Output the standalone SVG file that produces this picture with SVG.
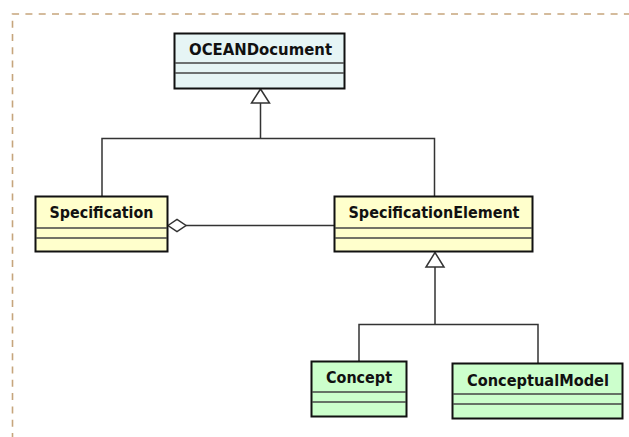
<svg xmlns="http://www.w3.org/2000/svg" width="629" height="437" viewBox="0 0 629 437">
  <defs>
    <style>
      .frame { fill: none; stroke: #c6a57c; stroke-width: 1.6; stroke-dasharray: 7 6.3; }
      .box { stroke: #111; stroke-width: 2; }
      .sep { stroke: #444; stroke-width: 1.5; }
      .doc { fill: #e6f5f5; }
      .spec { fill: #ffffcc; }
      .concept { fill: #ccffcc; }
      .name { font-family: "DejaVu Sans", "Liberation Sans", sans-serif; font-weight: bold; font-size: 15px; fill: #111; text-anchor: middle; }
      .wire { fill: none; stroke: #333; stroke-width: 1.5; }
      .head { fill: #fff; stroke: #333; stroke-width: 1.5; stroke-linejoin: miter; }
    </style>
  </defs>

  <!-- package frame, running off the right and bottom edges -->
  <path class="frame" d="M12.5,440 V14 H640"/>

  <!-- connectors -->
  <g id="connectors">
    <!-- generalisation: Specification / SpecificationElement -> OCEANDocument -->
    <path class="wire" d="M260.5,103 V138.5 M102,196 V138.5 H434.5 V196"/>
    <polygon class="head" points="260.5,89 251.5,103 269.5,103"/>
    <!-- aggregation: Specification <>- SpecificationElement -->
    <path class="wire" d="M186,225.5 H334"/>
    <polygon class="head" points="168,225.5 177,219.5 186,225.5 177,231.5"/>
    <!-- generalisation: Concept / ConceptualModel -> SpecificationElement -->
    <path class="wire" d="M435,267 V324.5 M359,361 V324.5 H538 V363"/>
    <polygon class="head" points="435,252.5 426,267 444,267"/>
  </g>

  <g id="OCEANDocument">
    <rect class="box doc" x="174.5" y="33.5" width="170" height="55"/>
    <line class="sep" x1="175" y1="63" x2="344" y2="63"/>
    <line class="sep" x1="175" y1="73" x2="344" y2="73"/>
    <text class="name" x="260.5" y="54.5" textLength="143" lengthAdjust="spacingAndGlyphs">OCEANDocument</text>
  </g>

  <g id="Specification">
    <rect class="box spec" x="35.5" y="196.5" width="132" height="55"/>
    <line class="sep" x1="36" y1="228" x2="167" y2="228"/>
    <line class="sep" x1="36" y1="238" x2="167" y2="238"/>
    <text class="name" x="101.5" y="218" textLength="104" lengthAdjust="spacingAndGlyphs">Specification</text>
  </g>

  <g id="SpecificationElement">
    <rect class="box spec" x="334.5" y="196.5" width="198" height="55"/>
    <line class="sep" x1="335" y1="228" x2="532" y2="228"/>
    <line class="sep" x1="335" y1="238" x2="532" y2="238"/>
    <text class="name" x="434" y="218" textLength="171" lengthAdjust="spacingAndGlyphs">SpecificationElement</text>
  </g>

  <g id="Concept">
    <rect class="box concept" x="311.5" y="361.5" width="95" height="55"/>
    <line class="sep" x1="312" y1="392" x2="406" y2="392"/>
    <line class="sep" x1="312" y1="402" x2="406" y2="402"/>
    <text class="name" x="359" y="383" textLength="66" lengthAdjust="spacingAndGlyphs">Concept</text>
  </g>

  <g id="ConceptualModel">
    <rect class="box concept" x="452.5" y="363.5" width="170" height="55"/>
    <line class="sep" x1="453" y1="394" x2="622" y2="394"/>
    <line class="sep" x1="453" y1="404" x2="622" y2="404"/>
    <text class="name" x="538" y="385.5" textLength="142" lengthAdjust="spacingAndGlyphs">ConceptualModel</text>
  </g>
</svg>
